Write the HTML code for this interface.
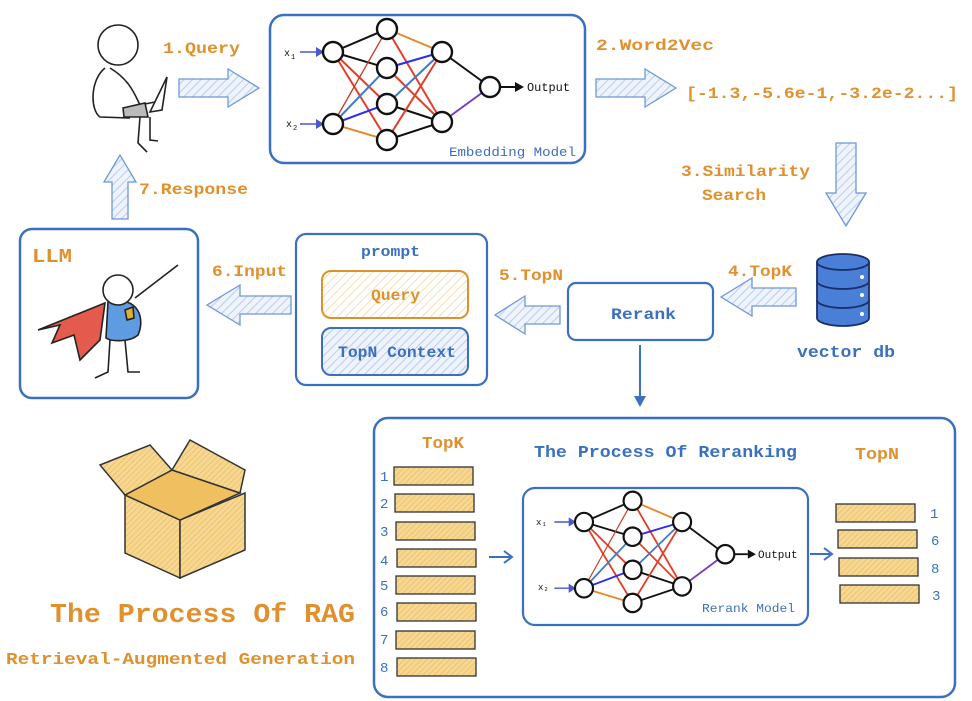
<!DOCTYPE html>
<html><head><meta charset="utf-8"><style>
html,body{margin:0;padding:0;background:#fff;}
svg{display:block;}
text{font-family:"Liberation Mono",monospace;}
.b{font-weight:bold;}
</style></head><body>
<svg width="972" height="701" viewBox="0 0 972 701" xmlns="http://www.w3.org/2000/svg">
<defs>
<pattern id="hb" width="6" height="6" patternUnits="userSpaceOnUse" patternTransform="rotate(45)">
<rect width="6" height="6" fill="#eef3fc"/><line x1="0" y1="0" x2="0" y2="6" stroke="#a9c2ea" stroke-width="1.5"/></pattern>
<pattern id="ho" width="6" height="6" patternUnits="userSpaceOnUse" patternTransform="rotate(45)">
<rect width="6" height="6" fill="#fff"/><line x1="0" y1="0" x2="0" y2="6" stroke="#f0c98a" stroke-width="1.2"/></pattern>
<pattern id="hy" width="4" height="4" patternUnits="userSpaceOnUse" patternTransform="rotate(45)">
<rect width="4" height="4" fill="#f6d794"/><line x1="0" y1="0" x2="0" y2="4" stroke="#e8b850" stroke-width="1.2"/></pattern>
<g id="nn" stroke-width="2" fill="none">
<line x1="333" y1="52" x2="387" y2="29" stroke="#111"/>
<line x1="333" y1="52" x2="387" y2="68" stroke="#111"/>
<line x1="333" y1="52" x2="387" y2="104" stroke="#e0402a"/>
<line x1="333" y1="52" x2="387" y2="140" stroke="#e0402a"/>
<line x1="333" y1="124" x2="387" y2="29" stroke="#c83a22" stroke-width="1.3"/>
<line x1="333" y1="124" x2="387" y2="68" stroke="#3f7cc8"/>
<line x1="333" y1="124" x2="387" y2="104" stroke="#2a2ef0"/>
<line x1="333" y1="124" x2="387" y2="140" stroke="#e08a2a"/>
<line x1="387" y1="29" x2="442" y2="52" stroke="#e08a2a"/>
<line x1="387" y1="29" x2="442" y2="122" stroke="#e0402a"/>
<line x1="387" y1="68" x2="442" y2="52" stroke="#2a2ef0"/>
<line x1="387" y1="68" x2="442" y2="122" stroke="#e0402a"/>
<line x1="387" y1="104" x2="442" y2="52" stroke="#3f7cc8"/>
<line x1="387" y1="104" x2="442" y2="122" stroke="#111"/>
<line x1="387" y1="140" x2="442" y2="52" stroke="#e0402a"/>
<line x1="387" y1="140" x2="442" y2="122" stroke="#111"/>
<line x1="442" y1="52" x2="490" y2="87" stroke="#111"/>
<line x1="442" y1="122" x2="490" y2="87" stroke="#7a3cc0"/>
<line x1="500" y1="87" x2="515" y2="87" stroke="#111"/>
<polygon points="515,82 524,87 515,92" fill="#111" stroke="none"/>
<line x1="300" y1="52" x2="318" y2="52" stroke="#4a56d0" stroke-width="1.5"/>
<polygon points="316,47 324,52 316,57" fill="#4a56d0" stroke="none"/>
<line x1="300" y1="124" x2="318" y2="124" stroke="#4a56d0" stroke-width="1.5"/>
<polygon points="316,119 324,124 316,129" fill="#4a56d0" stroke="none"/>
<g fill="#fff" stroke="#111" stroke-width="2.4">
<circle cx="333" cy="52" r="10"/><circle cx="333" cy="124" r="10"/>
<circle cx="387" cy="29" r="10"/><circle cx="387" cy="68" r="10"/><circle cx="387" cy="104" r="10"/><circle cx="387" cy="140" r="10"/>
<circle cx="442" cy="52" r="10"/><circle cx="442" cy="122" r="10"/><circle cx="490" cy="87" r="10"/>
</g>
</g>
</defs>

<rect x="270" y="15" width="315" height="148" rx="14" fill="#fff" stroke="#3b6fc0" stroke-width="2.5"/>
<use href="#nn"/>
<text x="284" y="56" font-size="10" fill="#111">x</text><text x="291" y="59" font-size="7" fill="#111">1</text>
<text x="286" y="127" font-size="10" fill="#111">x</text><text x="293" y="130" font-size="7" fill="#111">2</text>
<text x="527" y="91" font-size="12" fill="#111" textLength="43" lengthAdjust="spacingAndGlyphs">Output</text>
<text x="449" y="156" font-size="13" fill="#3b6fc0" textLength="127" lengthAdjust="spacingAndGlyphs">Embedding Model</text>

<!-- person -->
<g stroke="#222" stroke-width="1.6" fill="none">
<circle cx="118" cy="45" r="20"/>
<path d="M105 68 C90 80 90 110 100 117 L130 118"/>
<path d="M110 68 C130 80 135 95 140 105 L155 102"/>
<path d="M150 112 L167 77 L162 110 Z" fill="#fff"/>
<path d="M123 108 L145 103 L148 117 L124 117 Z" fill="#bbb"/>
<path d="M140 117 L138 143 L147 152 M150 117 L150 140 L158 141"/>
</g>

<g fill="url(#hb)" stroke="#6f98d8" stroke-width="1.3">
<polygon points="179,79 228,79 228,69 259,88 228,107 228,97 179,97"/>
<polygon points="596,79 645,79 645,69 676,88 645,107 645,97 596,97"/>
<polygon points="836,143 856,143 856,193 866,193 846,226 826,193 836,193"/>
<polygon points="796,288 752,288 752,278 721,297 752,316 752,306 796,306"/>
<polygon points="560,306 525,306 525,296 495,315 525,334 525,324 560,324"/>
<polygon points="291,296 240,296 240,285 207,305 240,325 240,314 291,314"/>
<polygon points="112,219 128,219 128,182 136,182 120,155 104,182 112,182"/>
</g>

<g class="b" font-size="16" fill="#e0902c">
<text x="163" y="53" textLength="77" lengthAdjust="spacingAndGlyphs">1.Query</text>
<text x="596" y="50" textLength="118" lengthAdjust="spacingAndGlyphs">2.Word2Vec</text>
<text x="686" y="98" textLength="272" lengthAdjust="spacingAndGlyphs">[-1.3,-5.6e-1,-3.2e-2...]</text>
<text x="681" y="176" textLength="129" lengthAdjust="spacingAndGlyphs">3.Similarity</text>
<text x="702" y="200" textLength="64" lengthAdjust="spacingAndGlyphs">Search</text>
<text x="728" y="276" textLength="64" lengthAdjust="spacingAndGlyphs">4.TopK</text>
<text x="499" y="280" textLength="64" lengthAdjust="spacingAndGlyphs">5.TopN</text>
<text x="212" y="276" textLength="75" lengthAdjust="spacingAndGlyphs">6.Input</text>
<text x="139" y="194" textLength="109" lengthAdjust="spacingAndGlyphs">7.Response</text>
</g>

<g stroke="#1a2f66" stroke-width="1.8">
<path d="M817 262 L817 318 A26 8 0 0 0 869 318 L869 262" fill="#4a7fd8"/>
<ellipse cx="843" cy="262" rx="26" ry="8" fill="#4a7fd8"/>
<path d="M817 281 A26 8 0 0 0 869 281 M817 300 A26 8 0 0 0 869 300" fill="none"/>
</g>
<g fill="#fff"><circle cx="862" cy="277" r="2"/><circle cx="862" cy="295" r="2"/><circle cx="862" cy="314" r="2"/></g>
<text x="797" y="357" font-size="17" class="b" fill="#3b6fc0" textLength="98" lengthAdjust="spacingAndGlyphs">vector db</text>

<rect x="568" y="283" width="145" height="57" rx="8" fill="#fff" stroke="#3b6fc0" stroke-width="2.2"/>
<text x="611" y="319" font-size="16" class="b" fill="#3b6fc0" textLength="65" lengthAdjust="spacingAndGlyphs">Rerank</text>
<line x1="640" y1="345" x2="640" y2="398" stroke="#3b6fc0" stroke-width="2"/>
<polygon points="634,396 640,407 646,396" fill="#3b6fc0"/>

<rect x="296" y="234" width="191" height="151" rx="10" fill="#fff" stroke="#3b6fc0" stroke-width="2.2"/>
<text x="361" y="256" font-size="15" class="b" fill="#3b6fc0" textLength="59" lengthAdjust="spacingAndGlyphs">prompt</text>
<rect x="322" y="271" width="146" height="47" rx="9" fill="url(#ho)" stroke="#e0902c" stroke-width="2"/>
<text x="371" y="300" font-size="16" class="b" fill="#e0902c" textLength="49" lengthAdjust="spacingAndGlyphs">Query</text>
<rect x="322" y="328" width="146" height="47" rx="9" fill="url(#hb)" stroke="#3b6fc0" stroke-width="2"/>
<text x="338" y="357" font-size="16" class="b" fill="#3b6fc0" textLength="118" lengthAdjust="spacingAndGlyphs">TopN Context</text>

<rect x="20" y="229" width="178" height="169" rx="12" fill="#fff" stroke="#3b6fc0" stroke-width="2.5"/>
<text x="32" y="262" font-size="19" class="b" fill="#e0902c" textLength="40" lengthAdjust="spacingAndGlyphs">LLM</text>
<g stroke="#222" stroke-width="1.6">
<path d="M105 303 L38 330 L60 325 L52 343 L74 335 L80 360 L100 340 Z" fill="#e45a4c"/>
<path d="M108 302 C140 295 145 320 138 335 C130 342 112 342 106 338 Z" fill="#5f9be0"/>
<polygon points="125,310 133,307 134,318 127,320" fill="#e0b030"/>
<circle cx="118" cy="290" r="15" fill="#fff"/>
<path d="M135 298 L178 265 M110 340 L108 372 L95 378 M125 340 L128 372 L140 372" fill="none"/>
</g>

<g stroke="#333" stroke-width="1.5">
<polygon points="125,495 180,520 180,578 125,553" fill="url(#hy)"/>
<polygon points="180,520 245,493 245,550 180,578" fill="url(#hy)"/>
<polygon points="125,495 172,470 240,493 180,520" fill="#f0c060"/>
<polygon points="125,495 100,465 150,445 172,470" fill="url(#hy)"/>
<polygon points="172,470 190,440 245,470 240,493" fill="url(#hy)"/>
</g>
<text x="50" y="622" font-size="27" class="b" fill="#e0902c" textLength="305" lengthAdjust="spacingAndGlyphs">The Process Of RAG</text>
<text x="6" y="664" font-size="17" class="b" fill="#e0902c" textLength="349" lengthAdjust="spacingAndGlyphs">Retrieval-Augmented Generation</text>

<rect x="374" y="418" width="581" height="279" rx="14" fill="#fff" stroke="#3b6fc0" stroke-width="2.5"/>
<text x="422" y="448" font-size="17" class="b" fill="#e0902c" textLength="42" lengthAdjust="spacingAndGlyphs">TopK</text>
<text x="534" y="457" font-size="17" class="b" fill="#3b6fc0" textLength="263" lengthAdjust="spacingAndGlyphs">The Process Of Reranking</text>
<text x="855" y="459" font-size="17" class="b" fill="#e0902c" textLength="44" lengthAdjust="spacingAndGlyphs">TopN</text>
<g fill="url(#hy)" stroke="#333" stroke-width="1.3">
<rect x="394" y="467" width="79" height="18"/><rect x="395" y="494" width="79" height="18"/>
<rect x="396" y="522" width="79" height="18"/><rect x="397" y="549" width="79" height="18"/>
<rect x="396" y="576" width="79" height="18"/><rect x="397" y="603" width="79" height="18"/>
<rect x="396" y="631" width="79" height="18"/><rect x="397" y="658" width="79" height="18"/>
<rect x="836" y="504" width="79" height="18"/>
<rect x="838" y="530" width="79" height="18"/>
<rect x="839" y="558" width="79" height="18"/>
<rect x="840" y="585" width="79" height="18"/>
</g>
<g font-size="14" fill="#3b6fc0">
<text x="380" y="481">1</text><text x="380" y="508">2</text><text x="380" y="536">3</text><text x="380" y="565">4</text>
<text x="380" y="590">5</text><text x="380" y="616">6</text><text x="380" y="644">7</text><text x="380" y="672">8</text>
<text x="930" y="518">1</text><text x="931" y="545">6</text><text x="931" y="573">8</text><text x="932" y="600">3</text>
</g>
<line x1="489" y1="557" x2="510" y2="557" stroke="#3b6fc0" stroke-width="2"/>
<path d="M504 551 L512 557 L504 563" fill="none" stroke="#3b6fc0" stroke-width="2"/>
<line x1="810" y1="554" x2="830" y2="554" stroke="#3b6fc0" stroke-width="2"/>
<path d="M824 548 L832 554 L824 560" fill="none" stroke="#3b6fc0" stroke-width="2"/>

<rect x="523" y="488" width="285" height="137" rx="12" fill="#fff" stroke="#3b6fc0" stroke-width="2.2"/>
<use href="#nn" transform="translate(584,522) scale(0.9,0.92) translate(-333,-52)"/>
<text x="536" y="525" font-size="9" fill="#111">x₁</text>
<text x="538" y="590" font-size="9" fill="#111">x₂</text>
<text x="758" y="558" font-size="11" fill="#111">Output</text>
<text x="702" y="612" font-size="12" fill="#3b6fc0" textLength="93" lengthAdjust="spacingAndGlyphs">Rerank Model</text>
</svg>
</body></html>
